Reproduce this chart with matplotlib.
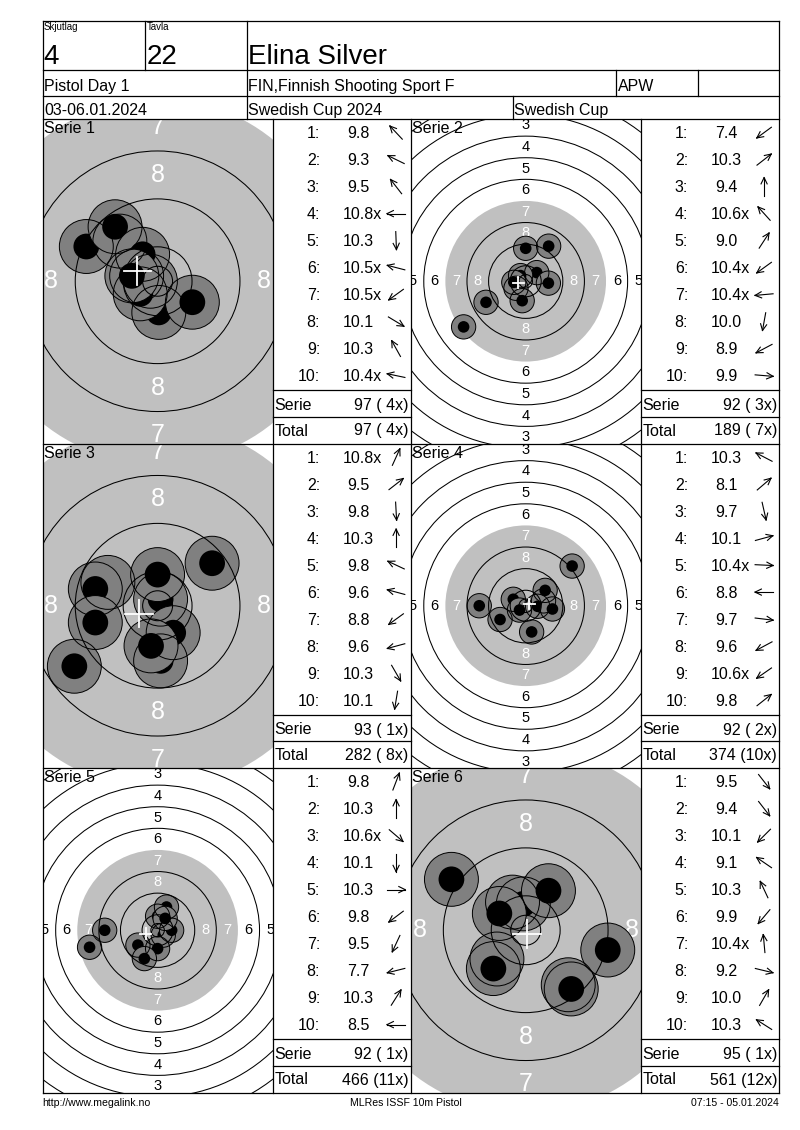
import numpy as np
import matplotlib
matplotlib.use("Agg")
import matplotlib.pyplot as plt
from matplotlib.patches import Circle

# ---------------- data ----------------
relay_label, relay_no = "Skjutlag", "4"
target_label, target_no = "Tavla", "22"
shooter = "Elina Silver"
event_name = "Pistol Day 1"
club = "FIN,Finnish Shooting Sport F"
shooter_class = "APW"
dates = "03-06.01.2024"
competition = "Swedish Cup 2024"
cup = "Swedish Cup"
footer_left = "http://www.megalink.no"
footer_mid = "MLRes ISSF 10m Pistol"
footer_right = "07:15 - 05.01.2024"

series_names = ["Serie 1", "Serie 2", "Serie 3", "Serie 4", "Serie 5", "Serie 6"]
zoomed_view = [True, False, True, False, False, True]

s1_scores = ["9.8", "9.3", "9.5", "10.8x", "10.3", "10.5x", "10.5x", "10.1", "10.3", "10.4x"]
s1_x = [-6.3, -11.9, -7.1, -1.2, 0.2, -3.5, -2.9, 5.8, -2.5, -4.3]
s1_y = [6.7, 5.8, 9.1, 0.0, -5.2, 0.9, -2.1, -3.5, 4.5, 0.9]

s2_scores = ["7.4", "10.3", "9.4", "10.6x", "9.0", "10.4x", "10.4x", "10.0", "8.9", "9.9"]
s2_x = [-23.0, 4.1, 0.0, -1.9, 8.5, -3.6, -4.4, -1.3, -14.7, 8.4]
s2_y = [-16.9, 3.2, 12.2, 2.1, 13.0, -2.6, -0.4, -7.2, -7.8, -0.7]

s3_scores = ["10.8x", "9.5", "9.8", "10.3", "9.8", "9.6", "8.8", "9.6", "10.3", "10.1"]
s3_x = [0.5, 9.1, 0.5, 0.0, -8.3, -10.4, -13.9, -10.4, 2.6, -1.1]
s3_y = [1.1, 7.1, -9.2, 5.2, 3.9, 2.8, -10.1, -2.8, -4.5, -6.7]

s4_scores = ["10.3", "8.1", "9.7", "10.1", "10.4x", "8.8", "9.7", "9.6", "10.6x", "9.8"]
s4_x = [-4.6, 17.2, 2.2, 6.6, 4.4, -17.2, 9.9, -9.5, -2.3, 7.2]
s4_y = [2.4, 14.7, -9.7, 1.8, -0.2, 0.0, -1.2, -5.1, -1.6, 5.7]

s5_scores = ["9.8", "10.3", "10.6x", "10.1", "10.3", "9.8", "9.5", "7.7", "10.3", "8.5"]
s5_x = [3.3, 0.0, 2.1, 0.0, 5.2, -7.3, -4.9, -25.2, 2.8, -19.6]
s5_y = [8.6, 5.2, -1.8, -6.8, 0.0, -5.5, -10.5, -6.3, 4.4, 0.0]

s6_scores = ["9.5", "9.4", "10.1", "9.1", "10.3", "9.9", "10.4x", "9.2", "10.0", "10.3"]
s6_x = [7.1, 7.6, -4.8, -12.4, -2.2, -5.4, -0.4, 13.7, 3.8, -4.4]
s6_y = [-9.1, -9.8, -4.8, 8.5, 4.7, -6.4, 4.4, -3.3, 6.6, 2.8]

ring_numbers = [1, 2, 3, 4, 5, 6, 7, 8, 9, 10]

series_scores = [s1_scores, s2_scores, s3_scores, s4_scores, s5_scores, s6_scores]
series_x = [s1_x, s2_x, s3_x, s4_x, s5_x, s6_x]
series_y = [s1_y, s2_y, s3_y, s4_y, s5_y, s6_y]

# ---------------- layout (pixels) ----------------
W, H = 800, 1130
XL, XT1, XM, XT2, XR = 42.5, 272.7, 410.7, 640.7, 779.0
YT, Y1, Y2, Y3 = 21.0, 70.0, 95.5, 119.0
ROWS = [119.0, 443.5, 768.0, 1092.5]
FONT = "Liberation Sans"
GRAY_BLACK = "#C0C0C0"
SHOT_GRAY = "#808080"
PX_PER_MM = {True: 5.99, False: 2.70}
AIM_R = {True: 30.5, False: 29.75}
LABEL_FS = {True: 18, False: 10.5}
CROSS = {True: 2.3, False: 2.0}

fig = plt.figure(figsize=(W / 100, H / 100), dpi=100)


def ring_radius(n):
    return 5.75 + 8.0 * (10 - n)


def draw_target(idx, x0, x1, y0, y1):
    zoom = zoomed_view[idx]
    sc = PX_PER_MM[zoom]
    hx, hy = (x1 - x0) / 2 / sc, (y1 - y0) / 2 / sc
    ax = fig.add_axes([x0 / W, 1 - y1 / H, (x1 - x0) / W, (y1 - y0) / H])
    ax.set_xlim(-hx, hx)
    ax.set_ylim(-hy, hy)
    ax.set_aspect("auto")
    ax.axis("off")
    # aiming black (drawn light gray)
    ax.add_patch(Circle((0, 0), AIM_R[zoom], fc=GRAY_BLACK, ec="none", zorder=1))
    # ring numbers (under the shots)
    fs = LABEL_FS[zoom]
    for n in ring_numbers[:8]:
        r = ring_radius(n) - 4.0
        col = "white" if n >= 7 else "black"
        for (px, py) in [(0, r), (0, -r), (r, 0), (-r, 0)]:
            if abs(px) < hx and abs(py) < hy:
                ax.text(px, py, str(n), ha="center", va="center", fontsize=fs, color=col,
                        family=FONT, zorder=1.5, clip_on=True)
    xs, ys = series_x[idx], series_y[idx]
    for i, (x, y) in enumerate(zip(xs, ys)):
        ax.add_patch(Circle((x, y), 4.5, fc=SHOT_GRAY, ec="none", zorder=2 + 0.01 * i))
        ax.add_patch(Circle((x, y), 2.15, fc="black", ec="none", zorder=2.005 + 0.01 * i))
    for x, y in zip(xs, ys):
        ax.add_patch(Circle((x, y), 4.5, fill=False, ec="black", lw=0.7, zorder=3))
    for n in ring_numbers:
        if n == 7:
            continue
        ax.add_patch(Circle((0, 0), ring_radius(n), fill=False, ec="black", lw=0.75, zorder=4))
    ax.add_patch(Circle((0, 0), 2.5, fill=False, ec="black", lw=0.75, zorder=4))
    mx, my = np.mean(xs), np.mean(ys)
    c = CROSS[zoom]
    ax.plot([mx - c, mx + c], [my, my], color="white", lw=1.3, zorder=6)
    ax.plot([mx, mx], [my - c, my + c], color="white", lw=1.3, zorder=6)


panels = []
for r in range(3):
    for c in range(2):
        panels.append((r, c))

for idx, (r, c) in enumerate(panels):
    y0, y1 = ROWS[r], ROWS[r + 1]
    x0, x1 = (XL, XT1) if c == 0 else (XM, XT2)
    draw_target(idx, x0, x1, y0, y1)

# ---------------- overlay: frame + text ----------------
ov = fig.add_axes([0, 0, 1, 1])
ov.set_xlim(0, W)
ov.set_ylim(H, 0)
ov.axis("off")
ov.patch.set_alpha(0)

LW = 0.9


def hline(y, xa, xb):
    ov.plot([xa, xb], [y, y], color="black", lw=LW, solid_capstyle="projecting")


def vline(x, ya, yb):
    ov.plot([x, x], [ya, yb], color="black", lw=LW, solid_capstyle="projecting")


# header frame
hline(YT, XL, XR)
hline(Y1, XL, XR)
hline(Y2, XL, XR)
hline(Y3, XL, XR)
vline(XL, YT, ROWS[-1])
vline(XR, YT, ROWS[-1])
vline(145.0, YT, Y1)
vline(246.5, YT, Y3)
vline(616.0, Y1, Y2)
vline(697.5, Y1, Y2)
vline(512.5, Y2, Y3)
for y in ROWS[1:]:
    hline(y, XL, XR)
for x in (XT1, XM, XT2):
    vline(x, Y3, ROWS[-1])

T = dict(family=FONT, color="black")
ov.text(43.5, 29.5, relay_label, fontsize=7, va="baseline", ha="left", **T)
ov.text(146.5, 29.5, target_label, fontsize=7, va="baseline", ha="left", **T)
ov.text(43.5, 63.5, relay_no, fontsize=20, va="baseline", ha="left", **T)
ov.text(146.5, 63.5, target_no, fontsize=20, va="baseline", ha="left", **T)
ov.text(248.0, 63.5, shooter, fontsize=20, va="baseline", ha="left", **T)
ov.text(44.0, 91.0, event_name, fontsize=11.5, va="baseline", ha="left", **T)
ov.text(248.0, 91.0, club, fontsize=11.5, va="baseline", ha="left", **T)
ov.text(618.0, 91.0, shooter_class, fontsize=11.5, va="baseline", ha="left", **T)
ov.text(44.0, 115.0, dates, fontsize=11.5, va="baseline", ha="left", **T)
ov.text(248.0, 115.0, competition, fontsize=11.5, va="baseline", ha="left", **T)
ov.text(514.5, 115.0, cup, fontsize=11.5, va="baseline", ha="left", **T)

ov.text(42.5, 1106.0, footer_left, fontsize=7.6, va="baseline", ha="left", **T)
ov.text(406.0, 1106.0, footer_mid, fontsize=7.6, va="baseline", ha="center", **T)
ov.text(779.0, 1106.0, footer_right, fontsize=7.6, va="baseline", ha="right", **T)


def draw_arrow(cx, cy, theta, L=18.0, wing=7.0, spread=26.0):
    ux, uy = np.cos(theta), -np.sin(theta)
    tip = (cx + ux * L / 2, cy + uy * L / 2)
    tail = (cx - ux * L / 2, cy - uy * L / 2)
    ov.plot([tail[0], tip[0]], [tail[1], tip[1]], color="black", lw=0.8)
    for s in (1, -1):
        a = theta + np.pi + s * np.deg2rad(spread)
        ov.plot([tip[0], tip[0] + np.cos(a) * wing], [tip[1], tip[1] - np.sin(a) * wing],
                color="black", lw=0.8)


running_total = 0
running_x = 0
for idx, (r, c) in enumerate(panels):
    top = ROWS[r]
    tx0, tx1 = (XT1, XM) if c == 0 else (XT2, XR)
    px0 = XL if c == 0 else XM
    ov.text(px0 + 1.0, top + 14.3, series_names[idx], fontsize=11.5, va="baseline",
            ha="left", **T)
    scores = series_scores[idx]
    for i, s in enumerate(scores):
        base = top + 19.3 + 27.0 * i
        ov.text(tx0 + 47.5, base, f"{i + 1}:", fontsize=11.5, va="baseline", ha="right", **T)
        val = float(s.rstrip("x"))
        off = 4.4 if val < 10 else 0.0
        ov.text(tx0 + 69.7 + off, base, s, fontsize=11.5, va="baseline", ha="left", **T)
        theta = np.arctan2(series_y[idx][i], series_x[idx][i])
        draw_arrow(tx0 + 123.4, top + 13.6 + 27.0 * i, theta)
    serie_sum = sum(int(float(s.rstrip("x"))) for s in scores)
    serie_x = sum(1 for s in scores if s.endswith("x"))
    running_total += serie_sum
    running_x += serie_x
    hline(top + 271.0, tx0, tx1)
    hline(top + 297.7, tx0, tx1)
    ov.text(tx0 + 1.5, top + 291.0, "Serie", fontsize=11.5, va="baseline", ha="left", **T)
    ov.text(tx1 - 2.0, top + 291.0, f"{serie_sum} ({serie_x:2d}x)", fontsize=11.5,
            va="baseline", ha="right", **T)
    ov.text(tx0 + 1.5, top + 316.5, "Total", fontsize=11.5, va="baseline", ha="left", **T)
    ov.text(tx1 - 2.0, top + 316.5, f"{running_total} ({running_x:2d}x)", fontsize=11.5,
            va="baseline", ha="right", **T)

fig.savefig("out.png", dpi=100, facecolor="white")
